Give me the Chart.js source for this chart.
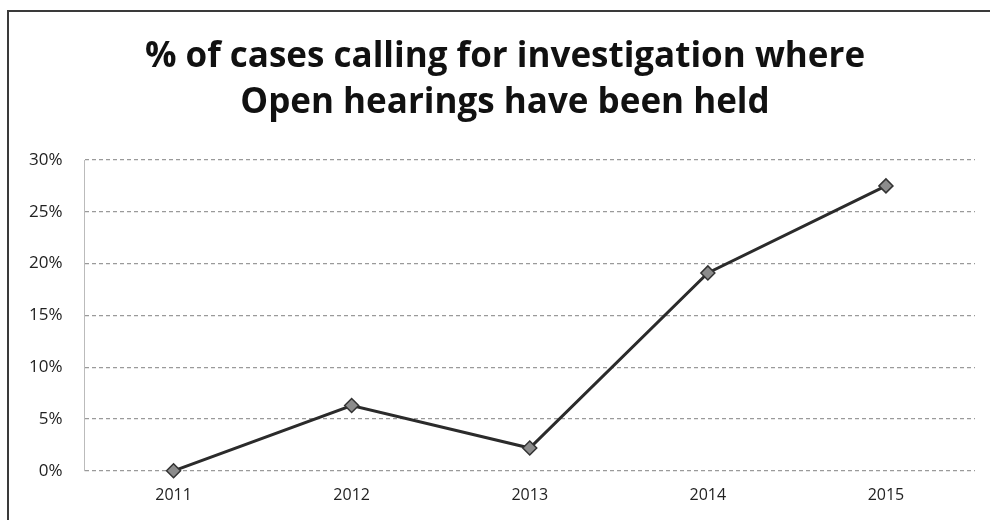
<!DOCTYPE html>
<html>
<head>
<meta charset="utf-8">
<script src="https://cdn.jsdelivr.net/npm/chart.js@4/dist/chart.umd.min.js"></script>
<style>
  html, body { margin: 0; padding: 0; background: #fff; }
  #wrap { width: 990px; height: 520px; position: relative; }
</style>
</head>
<body>
<div id="wrap"><canvas id="c" width="990" height="520"></canvas></div>
<script>
// Years on the category axis
const years = ['2011', '2012', '2013', '2014', '2015'];
// Share of cases calling for investigation with open hearings (%)
const openHearingShare = [0, 6.3, 2.2, 19.1, 27.5];
// Value axis ticks (%)
const yTicks = [0, 5, 10, 15, 20, 25, 30];
// Heading lines
const titleLines = ['% of cases calling for investigation where', 'Open hearings have been held'];

// Thin frame along the top and left edges, plus the two-line heading
const framePlugin = {
  id: 'frame',
  afterDraw(chart) {
    const ctx = chart.ctx;
    ctx.save();
    ctx.strokeStyle = '#3a3a3a';
    ctx.lineWidth = 2;
    ctx.beginPath();
    ctx.moveTo(8, 520);
    ctx.lineTo(8, 11);
    ctx.lineTo(990, 11);
    ctx.stroke();

    ctx.fillStyle = '#111';
    ctx.font = 'bold 35px "Open Sans"';
    ctx.textAlign = 'center';
    ctx.textBaseline = 'middle';
    const cx = 505;
    titleLines.forEach((line, i) => ctx.fillText(line, cx, 57 + i * 46));
    ctx.restore();
  }
};

new Chart(document.getElementById('c'), {
  type: 'line',
  data: {
    labels: years,
    datasets: [{
      data: openHearingShare,
      borderColor: '#2b2b2b',
      borderWidth: 3,
      tension: 0,
      clip: false,
      pointStyle: 'rectRot',
      pointRadius: 7,
      pointBackgroundColor: '#8c8c8c',
      pointBorderColor: '#333',
      pointBorderWidth: 1.5
    }]
  },
  options: {
    responsive: false,
    animation: false,
    layout: { padding: { left: 7, right: 15, top: 160, bottom: 0 } },
    plugins: {
      legend: { display: false },
      tooltip: { enabled: false },
      title: { display: false }
    },
    scales: {
      x: {
        offset: true,
        grid: { display: false, drawTicks: false },
        border: { display: false },
        ticks: {
          color: '#222',
          font: { family: 'Open Sans', size: 16 },
          padding: 15
        }
      },
      y: {
        min: 0,
        max: 30,
        afterBuildTicks(axis) { axis.ticks = yTicks.map(v => ({ value: v })); },
        grid: {
          color: '#9a9a9a',
          lineWidth: 1.2,
          drawTicks: false
        },
        border: { display: true, color: '#bbb', dash: [4, 3], width: 1 },
        ticks: {
          color: '#222',
          font: { family: 'Open Sans', size: 17 },
          padding: 22,
          callback: v => v + '%'
        }
      }
    }
  },
  plugins: [framePlugin]
});
</script>
</body>
</html>
